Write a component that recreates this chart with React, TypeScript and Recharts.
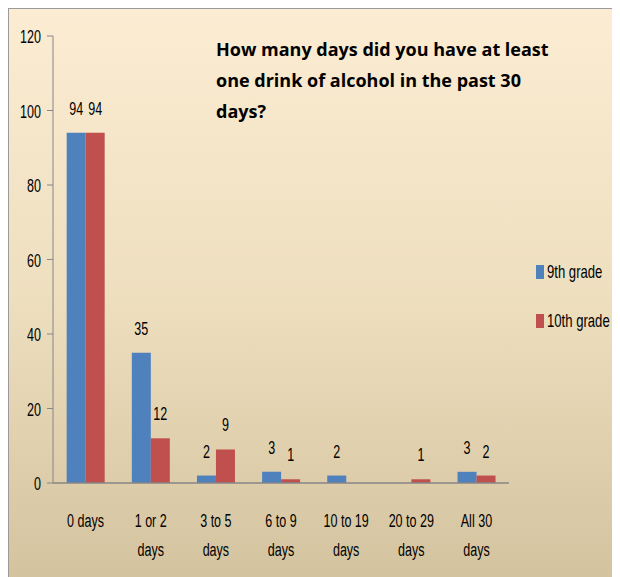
import React from 'react';
import { BarChart, Bar, XAxis, YAxis, Legend, LabelList } from 'recharts';

const CATEGORIES = ['0 days', '1 or 2\ndays', '3 to 5\ndays', '6 to 9\ndays', '10 to 19\ndays', '20 to 29\ndays', 'All 30\ndays'];
const NINTH = [94, 35, 2, 3, 2, 0, 3];
const TENTH = [94, 12, 9, 1, 0, 1, 2];
const Y_TICKS = [0, 20, 40, 60, 80, 100, 120];
const SEPARATORS = [0, 1, 2, 3, 4, 5, 6, 7];
const TITLE_LINES = ['How many days did you have at least', 'one drink of alcohol in the past 30', 'days?'];

const data = CATEGORIES.map((cat, i) => ({ cat, ninth: NINTH[i], tenth: TENTH[i] }));

const FONT = '"Liberation Sans", Arial, sans-serif';
const SQUEEZE = 0.66;
const BLUE = '#4F81BD';
const RED = '#C0504D';
const AXIS = '#868686';

// Calibri-like narrow look: Liberation Sans squeezed horizontally
const NarrowText = ({ x, y, anchor, children }: any) => (
  <text
    transform={`translate(${x},${y}) scale(${SQUEEZE},1)`}
    x={0}
    y={0}
    textAnchor={anchor}
    fill="#000"
    fontSize={19}
    fontFamily={FONT}
  >
    {children}
  </text>
);

const CatTick = (props: any) => {
  const { x, y, payload } = props;
  const lines = String(payload.value).split('\n');
  return (
    <g>
      {lines.map((ln, i) => (
        <NarrowText key={i} x={x} y={y + 36 + i * 29} anchor="middle">
          {ln}
        </NarrowText>
      ))}
    </g>
  );
};

const ValTick = (props: any) => {
  const { x, y, payload } = props;
  return (
    <NarrowText x={x} y={y + 7} anchor="end">
      {payload.value}
    </NarrowText>
  );
};

const BarLabel = (props: any) => {
  const { x, y, width, value } = props;
  if (!value) return null;
  return (
    <NarrowText x={x + width / 2} y={y - 18} anchor="middle">
      {value}
    </NarrowText>
  );
};

const LegendBox = (props: any) => {
  const { payload } = props;
  return (
    <div>
      {payload.map((p: any, i: number) => (
        <div key={i} style={{ display: 'flex', alignItems: 'center', height: 24, marginBottom: 25, whiteSpace: 'nowrap' }}>
          <span style={{ width: 8, height: 14, background: p.color, display: 'inline-block', marginRight: 3, flex: 'none' }} />
          <span
            style={{
              fontFamily: FONT,
              fontSize: 19,
              color: '#000',
              display: 'inline-block',
              transform: 'scaleX(0.69)',
              transformOrigin: 'left center',
            }}
          >
            {p.value}
          </span>
        </div>
      ))}
    </div>
  );
};

export default function App() {
  return (
    <div
      style={{
        position: 'relative',
        width: 611,
        height: 568,
        borderTop: '1px solid #9a9a9a',
        borderLeft: '1px solid #9a9a9a',
        background: 'linear-gradient(180deg, #FCECD3 0%, #EEDFBF 50%, #D4C39F 100%)',
      }}
    >
      <div
        style={{
          position: 'absolute',
          left: 207,
          top: 25,
          fontFamily: '"Open Sans", sans-serif',
          fontWeight: 700,
          fontSize: 18,
          lineHeight: '31px',
          color: '#000',
          whiteSpace: 'nowrap',
        }}
      >
        {TITLE_LINES.map((t, i) => (
          <div key={i}>{t}</div>
        ))}
      </div>
      <BarChart
        width={611}
        height={568}
        data={data}
        margin={{ top: 27, right: 111, bottom: 34, left: 0 }}
        barCategoryGap="21%"
        barGap={0}
      >
        <XAxis
          xAxisId="sep"
          type="number"
          domain={[0, 7]}
          ticks={SEPARATORS}
          height={0}
          axisLine={false}
          tick={false}
          tickSize={9}
          tickLine={{ stroke: AXIS }}
        />
        <XAxis
          dataKey="cat"
          height={60}
          interval={0}
          tickLine={false}
          axisLine={{ stroke: AXIS, strokeWidth: 1.5 }}
          tick={<CatTick />}
        />
        <YAxis
          width={44}
          domain={[0, 120]}
          ticks={Y_TICKS}
          tickSize={6}
          tickMargin={6}
          axisLine={{ stroke: AXIS }}
          tickLine={{ stroke: AXIS }}
          tick={<ValTick />}
        />
        <Legend
          layout="vertical"
          align="center"
          verticalAlign="middle"
          itemSorter="dataKey"
          content={<LegendBox />}
          wrapperStyle={{ left: 527, top: 251, width: 90 }}
        />
        <Bar dataKey="ninth" name="9th grade" fill={BLUE} isAnimationActive={false}>
          <LabelList dataKey="ninth" content={<BarLabel />} />
        </Bar>
        <Bar dataKey="tenth" name="10th grade" fill={RED} isAnimationActive={false}>
          <LabelList dataKey="tenth" content={<BarLabel />} />
        </Bar>
      </BarChart>
    </div>
  );
}
